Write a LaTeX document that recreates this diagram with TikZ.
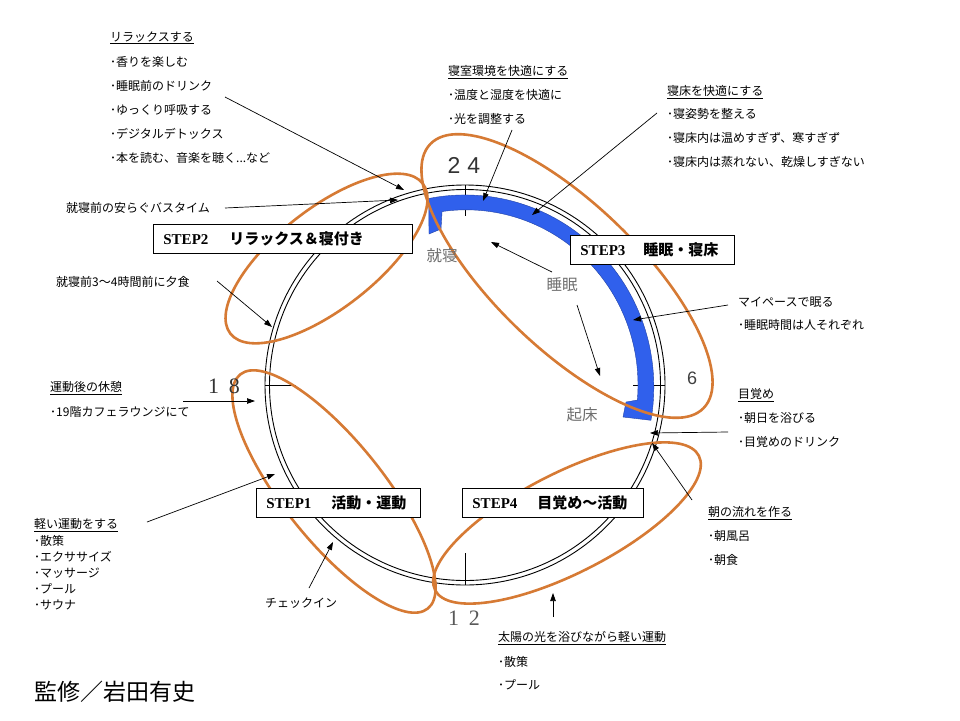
\documentclass[tikz,border=0pt]{standalone}
\usepackage{fontspec}
\setmainfont{Liberation Serif}
\newfontfamily\jp{Noto Sans CJK JP}
\newfontfamily\lsans{Liberation Sans}
\usetikzlibrary{arrows.meta}
\definecolor{ora}{RGB}{214,122,52}
\definecolor{bandblue}{RGB}{48,96,236}
\definecolor{lblgray}{RGB}{110,110,110}
\begin{document}
\begin{tikzpicture}[x=1pt,y=-1pt,
  lbl/.style={anchor=west,inner sep=0pt,font=\jp\fontsize{12}{14}\selectfont},
  arr/.style={-{Triangle[length=8pt,width=5.5pt]},line width=0.7pt},
  ell/.style={draw=ora,line width=2.6pt},
  tick/.style={line width=0.8pt},
  stepbox/.style={draw,fill=white,line width=0.8pt,anchor=west,minimum height=29pt,inner xsep=10pt,inner ysep=0pt,align=left,font=\fontsize{15}{18}\selectfont},
  glbl/.style={inner sep=0pt,text=lblgray,font=\jp\fontsize{15.5}{18}\selectfont}]

\useasboundingbox (0,0) rectangle (960,720);
\fill[white] (0,0) rectangle (960,720);

% clock ring
\draw[line width=0.9pt] (465,385) circle[radius=200];
\draw[line width=0.9pt] (465,385) circle[radius=195.5];

% ticks
\draw[tick] (465,185) -- (465,216);
\draw[tick] (265,385) -- (296,385);
\draw[tick] (665,385) -- (633,385);
\draw[tick] (465,585) -- (465,553);

% sleep band
\fill[bandblue,draw=bandblue!70!black,line width=0.4pt]
  ([shift={(465,385)}]-101:190) arc[start angle=-101,end angle=10,x radius=189,y radius=192]
  -- (623,417) -- (626,402)
  -- ([shift={(465,385)}]5:173) arc[start angle=5,end angle=-98,x radius=172,y radius=175]
  -- (441,229) -- (429,234) -- cycle;

% orange ellipses
\draw[ell,rotate around={38:(326.5,258.5)}] (326.5,258.5) ellipse[x radius=122,y radius=50];
\draw[ell,rotate around={-44:(567,276)}] (567,276) ellipse[x radius=190,y radius=72];
\draw[ell,rotate around={-51.3:(334,491.5)}] (334,491.5) ellipse[x radius=150,y radius=50];
\draw[ell,rotate around={27:(567,523)}] (567,523) ellipse[x radius=148,y radius=50];

% hour numbers
\node[inner sep=0pt,text=black!80,font=\lsans\fontsize{23}{24}\selectfont] (n24) at (464,165) {2\hspace{7pt}4};
\node[inner sep=0pt,text=black!80,font=\fontsize{22}{24}\selectfont] (n18) at (224,386) {1\hspace{10pt}8};
\node[inner sep=0pt,text=black!75,font=\lsans\fontsize{18}{20}\selectfont] (n6) at (692,378) {6};
\node[inner sep=0pt,text=black!65,font=\fontsize{22}{24}\selectfont] (n12) at (464,618) {1\hspace{10pt}2};

% gray labels
\node[glbl] (shushin) at (442,256) {就寝};
\node[glbl] (suimin) at (562,285) {睡眠};
\node[glbl] (kisho) at (582,415) {起床};

% step boxes
\node[stepbox,text width=239pt] (s2) at (153,238.5) {\textbf{STEP2}\hspace{21pt}{\jp\bfseries リラックス＆寝付き}};
\node[stepbox,text width=144pt] (s3) at (570,249.5) {\textbf{STEP3}\hspace{18pt}{\jp\bfseries 睡眠・寝床}};
\node[stepbox,text width=144pt] (s1) at (256,502.5) {\textbf{STEP1}\hspace{20pt}{\jp\bfseries 活動・運動}};
\node[stepbox,text width=161pt] (s4) at (462,502.5) {\textbf{STEP4}\hspace{20pt}{\jp\bfseries 目覚め～活動}};

% text blocks
\node[lbl] (a0) at (110,38) {\underline{リラックスする}};
\node[lbl] (a1) at (110,62) {･香りを楽しむ};
\node[lbl] (a2) at (110,86) {･睡眠前のドリンク};
\node[lbl] (a3) at (110,110) {･ゆっくり呼吸する};
\node[lbl] (a4) at (110,134) {･デジタルデトックス};
\node[lbl] (a5) at (110,158) {･本を読む、音楽を聴く...など};

\node[lbl] (bath) at (66,208) {就寝前の安らぐバスタイム};
\node[lbl] (dinner) at (56,282) {就寝前3～4時間前に夕食};

\node[lbl] (r0) at (50,388) {\underline{運動後の休憩}};
\node[lbl] (r1) at (50,412) {･19階カフェラウンジにて};

\node[lbl] (e0) at (34,525) {\underline{軽い運動をする}};
\node[lbl] (e1) at (34,541) {･散策};
\node[lbl] (e2) at (34,557) {･エクササイズ};
\node[lbl] (e3) at (34,573) {･マッサージ};
\node[lbl] (e4) at (34,589) {･プール};
\node[lbl] (e5) at (34,605) {･サウナ};

\node[lbl] (chk) at (265,603) {チェックイン};

\node[lbl] (t0) at (498,638) {\underline{太陽の光を浴びながら軽い運動}};
\node[lbl] (t1) at (498,662) {･散策};
\node[lbl] (t2) at (498,685) {･プール};

\node[lbl] (b0) at (448,72) {\underline{寝室環境を快適にする}};
\node[lbl] (b1) at (448,95) {･温度と湿度を快適に};
\node[lbl] (b2) at (448,119) {･光を調整する};

\node[lbl] (c0) at (667,92) {\underline{寝床を快適にする}};
\node[lbl] (c1) at (667,114) {･寝姿勢を整える};
\node[lbl] (c2) at (667,138) {･寝床内は温めすぎず、寒すぎず};
\node[lbl] (c3) at (667,162) {･寝床内は蒸れない、乾燥しすぎない};

\node[lbl] (m0) at (738,302) {マイペースで眠る};
\node[lbl] (m1) at (738,325) {･睡眠時間は人それぞれ};

\node[lbl] (w0) at (738,395) {\underline{目覚め}};
\node[lbl] (w1) at (738,418) {･朝日を浴びる};
\node[lbl] (w2) at (738,442) {･目覚めのドリンク};

\node[lbl] (f0) at (708,513) {\underline{朝の流れを作る}};
\node[lbl] (f1) at (708,536) {･朝風呂};
\node[lbl] (f2) at (708,560) {･朝食};

\node[anchor=west,inner sep=0pt,font=\jp\fontsize{23}{26}\selectfont] (sup) at (34,692) {監修／岩田有史};

% arrow end points
\coordinate (p1s) at (225,97);   \coordinate (p1e) at (404,190);
\coordinate (p2s) at (225,208);  \coordinate (p2e) at (398,200);
\coordinate (p3s) at (512,130);  \coordinate (p3e) at (483,201);
\coordinate (p4s) at (657,113);  \coordinate (p4e) at (532,215);
\coordinate (p5s) at (728,305);  \coordinate (p5e) at (633,320);
\coordinate (p6s) at (728,432);  \coordinate (p6e) at (650,433);
\coordinate (p7s) at (692,500);  \coordinate (p7e) at (652,443);
\coordinate (p8s) at (553,617);  \coordinate (p8e) at (553,593);
\coordinate (p9s) at (309,588);  \coordinate (p9e) at (333,542);
\coordinate (p10s) at (147,522); \coordinate (p10e) at (275,474);
\coordinate (p11s) at (183,401); \coordinate (p11e) at (255,401);
\coordinate (p12s) at (217,281); \coordinate (p12e) at (272,327);
\coordinate (p13s) at (552,272); \coordinate (p13e) at (491,242);
\coordinate (p14s) at (577,305); \coordinate (p14e) at (600,376);

\foreach \i in {1,...,14} {\draw[arr] (p\i s) -- (p\i e);}
\end{tikzpicture}
\end{document}
